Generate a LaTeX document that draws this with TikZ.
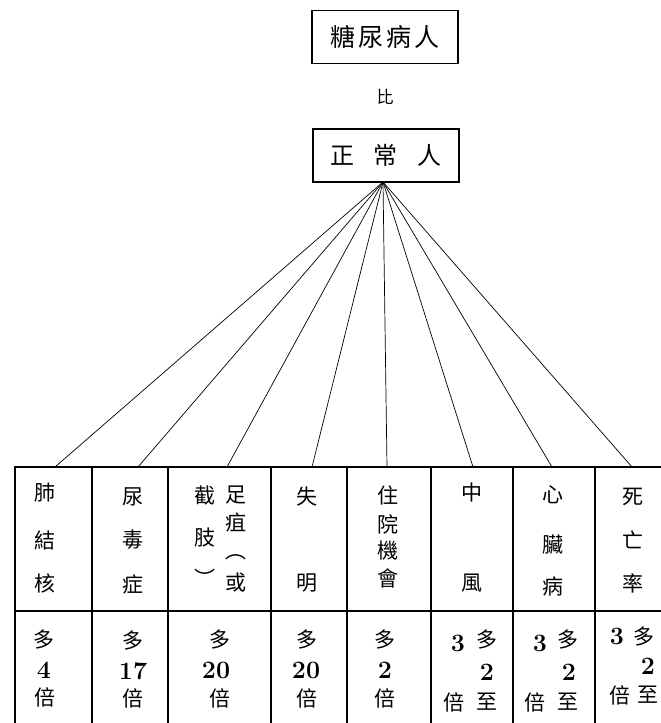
\documentclass[tikz,border=0pt]{standalone}
\usepackage{fontspec}
\newfontfamily\cjk{Noto Sans CJK TC}
\begin{document}
\begin{tikzpicture}[x=1pt,y=-1pt,
  box/.style={draw, line width=1.2pt, minimum width=146pt, minimum height=53pt, inner sep=0},
  grid/.style={line width=1.1pt},
  fan/.style={line width=0.7pt},
  ch/.style={font=\cjk\fontsize{21}{21}\selectfont, inner sep=0},
  dg/.style={font=\bfseries\fontsize{25}{25}\selectfont, inner sep=0}]
\useasboundingbox (0,0) rectangle (661,723);
% header boxes
\node[box, font=\cjk\fontsize{25}{25}\selectfont] (top) at (385,37) {糖\hspace{3pt}尿\hspace{3pt}病\hspace{3pt}人};
\node[font=\cjk\fontsize{17}{17}\selectfont, inner sep=0] (bi) at (385,97) {比};
\node[box, font=\cjk\fontsize{24}{24}\selectfont] (normal) at (386,155.5) {正\hspace{20pt}常\hspace{20pt}人};
\coordinate (hub) at (383,182);
% table
\draw[grid] (661,467) -- (15,467) -- (15,723);
\draw[grid] (15,611) -- (661,611);
\foreach \x in {92,168,271,347,431,513,595}
  \draw[grid] (\x,467) -- (\x,723);
% fan connectors
\foreach \x [count=\i] in {55,138,227,312,387,473,552,632} {
  \coordinate (t\i) at (\x,467);
  \draw[fan] (hub) -- (t\i);
}
% upper row texts
\foreach \t/\x/\y [count=\i] in {
  肺/45/493, 結/45/540, 核/45/583,
  尿/133/497, 毒/133/540, 症/133/585,
  截/205/496, 肢/205/538, ︶/205/578,
  足/236/495, 疽/236/523, ︵/236/557, 或/236/583,
  失/307/497, 明/307/583,
  住/388/495, 院/388/524, 機/388/551, 會/388/578,
  中/472/493, 風/472/583,
  心/553/495, 臟/553/545, 病/553/586,
  死/633/497, 亡/633/540, 率/633/583}
  \node[ch] (u\i) at (\x,\y) {\t};
% lower row CJK texts
\foreach \t/\x/\y [count=\i] in {
  多/44/640, 倍/45/697,
  多/133/641, 倍/133/698,
  多/220/640, 倍/220/698,
  多/307/640, 倍/307/698,
  多/385/640, 倍/385/698,
  多/487/640, 至/487/702, 倍/454/702,
  多/568/640, 至/568/702, 倍/535/702,
  多/644/637, 至/648/695, 倍/620/695}
  \node[ch] (l\i) at (\x,\y) {\t};
% lower row numbers
\foreach \t/\x/\y [count=\i] in {
  4/44/670, 17/133/671, 20/216/670, 20/306/670, 2/385/670,
  3/458/643, 2/487/672,
  3/540/643, 2/569/672,
  3/617/636, 2/648/666}
  \node[dg] (n\i) at (\x,\y) {\t};
\end{tikzpicture}
\end{document}
